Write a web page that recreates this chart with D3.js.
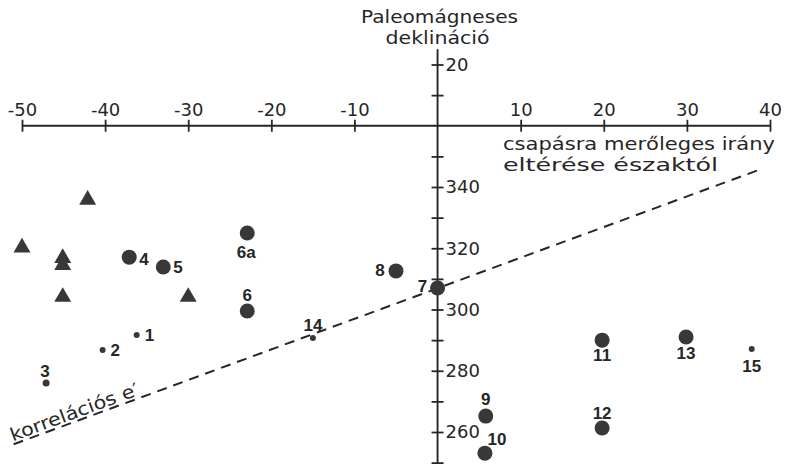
<!DOCTYPE html>
<html><head><meta charset="utf-8">
<script src="https://cdn.jsdelivr.net/npm/d3@7/dist/d3.min.js"></script>
<style>
html,body{margin:0;padding:0;background:#fff;}
svg{display:block;}
</style></head>
<body>
<svg id="chart" width="790" height="469"></svg>
<script>
// ---- data ----
const pointLabels = ["1","2","3","4","5","6","6a","7","8","9","10","11","12","13","14","15"];
const pointX = [-36.2,-40.3,-47.1,-37.1,-33.0,-22.9,-22.9,0.0,-5.0,5.8,5.7,19.8,19.8,29.9,-15.0,37.8];
const pointY = [291.7,286.8,276.0,317.1,313.9,299.5,325.0,307.0,312.6,265.2,253.1,290.0,261.3,291.0,290.7,287.1];
const pointKind = ["small","small","small","large","large","large","large","large","large","large","large","large","large","large","small","small"];
const triX = [-42.1,-50.0,-45.1,-45.1,-45.1,-30.0];
const triY = [335.8,320.2,316.8,314.5,304.1,304.1];
const corrX = [-51, 38.5];
const corrY = [256.0, 345.4];
const xTickValues = [-50,-40,-30,-20,-10,10,20,30,40];
const xTickLabels = ["-50","-40","-30","-20","-10","10","20","30","40"];
const yTickValues = [250,260,270,280,290,300,310,320,330,340,350,370,380];
const yTickLabels = ["","260","","280","","300","","320","","340","","","20"];
const yTitle = ["Paleomágneses","deklináció"];
const xTitle = ["csapásra merőleges irány","eltérése északtól"];
const corrLabel = "korrelációs e′";

// ---- layout / style ----
const svg = d3.select("#chart");
const x = d3.scaleLinear().domain([-50, 40]).range([22, 770]);
const y = d3.scaleLinear().domain([260, 340]).range([432, 187]);
const ink = "#262626", markFill = "#383838";
const axisFont = "'DejaVu Sans', sans-serif";

// x axis
const xAxis = d3.axisTop(x).tickValues(xTickValues)
  .tickFormat((d,i) => xTickLabels[i]).tickSize(6).tickPadding(4);
const gx = svg.append("g").attr("transform", `translate(0,${y(360)})`).call(xAxis);
gx.select(".domain").remove();
gx.append("line").attr("x1", x(-50)).attr("x2", x(40)).attr("y1",0).attr("y2",0)
  .attr("stroke", ink).attr("stroke-width", 1.9);
gx.selectAll(".tick line").attr("y1", -6).attr("y2", 6).attr("stroke", ink).attr("stroke-width", 1.8);
gx.selectAll(".tick text").attr("fill", ink).attr("font-size", 18).attr("font-family", axisFont)
  .attr("y", -10).attr("dy", 0);

// y axis
const yAxis = d3.axisRight(y).tickValues(yTickValues)
  .tickFormat((d,i) => yTickLabels[i]).tickSize(6).tickPadding(2);
const gy = svg.append("g").attr("transform", `translate(${x(0)},0)`).call(yAxis);
gy.select(".domain").remove();
gy.append("line").attr("x1", 0).attr("x2", 0).attr("y1", y(385)).attr("y2", y(250))
  .attr("stroke", ink).attr("stroke-width", 1.9);
gy.selectAll(".tick line").attr("x1", -6).attr("x2", 6).attr("stroke", ink).attr("stroke-width", 1.8);
gy.selectAll(".tick text").attr("fill", ink).attr("font-size", 18).attr("font-family", axisFont)
  .attr("x", 8);

// titles
svg.append("text").attr("x", x(0)+2).attr("y", 23).attr("text-anchor","middle")
  .attr("font-family", axisFont).attr("font-size", 17).attr("fill", ink)
  .attr("textLength", 157).attr("lengthAdjust","spacingAndGlyphs").text(yTitle[0]);
svg.append("text").attr("x", x(0)).attr("y", 44).attr("text-anchor","middle")
  .attr("font-family", axisFont).attr("font-size", 17).attr("fill", ink)
  .attr("textLength", 104).attr("lengthAdjust","spacingAndGlyphs").text(yTitle[1]);
svg.append("text").attr("x", 503).attr("y", 150)
  .attr("font-family", axisFont).attr("font-size", 18).attr("fill", ink)
  .attr("textLength", 272).attr("lengthAdjust","spacingAndGlyphs").text(xTitle[0]);
svg.append("text").attr("x", 503).attr("y", 171)
  .attr("font-family", axisFont).attr("font-size", 18).attr("fill", ink)
  .attr("textLength", 215).attr("lengthAdjust","spacingAndGlyphs").text(xTitle[1]);

// correlation line
const cx0 = x(corrX[0]), cy0 = y(corrY[0]), cx1 = x(corrX[1]), cy1 = y(corrY[1]);
svg.append("line").attr("x1", cx0).attr("y1", cy0).attr("x2", cx1).attr("y2", cy1)
  .attr("stroke", ink).attr("stroke-width", 2).attr("stroke-dasharray", "10,7");
const ang = Math.atan2(cy1 - cy0, cx1 - cx0) * 180 / Math.PI;
svg.append("text")
  .attr("transform", `translate(${cx0},${cy0}) rotate(${ang}) translate(0,-3)`)
  .attr("font-family", axisFont).attr("font-size", 18).attr("fill", ink)
  .attr("textLength", 136).attr("lengthAdjust","spacingAndGlyphs").text(corrLabel);

// triangles
const tri = d3.symbol().type(d3.symbolTriangle).size(125);
svg.append("g").selectAll("path").data(triX.map((v,i)=>[v,triY[i]])).join("path")
  .attr("d", tri).attr("transform", d => `translate(${x(d[0])},${y(d[1])})`)
  .attr("fill", markFill);

// points
const pts = pointLabels.map((l,i)=>({label:l, x:pointX[i], y:pointY[i], kind:pointKind[i]}));
const radius = {large: 7.5, small: 3};
svg.append("g").selectAll("circle").data(pts).join("circle")
  .attr("cx", d => x(d.x)).attr("cy", d => y(d.y))
  .attr("r", d => d.label === "3" ? 3.5 : radius[d.kind]).attr("fill", markFill);

// label placement (offsets in pixels)
const placement = {
  "1":[8,1,"start"], "2":[8,1,"start"], "3":[-1,-12,"middle"], "4":[10,2,"start"], "5":[10,1,"start"],
  "6":[0,-16,"middle"], "6a":[-1,20,"middle"], "7":[-15,-2,"middle"], "8":[-16,0,"middle"],
  "9":[0,-17,"middle"], "10":[12,-14,"middle"], "11":[0,15,"middle"], "12":[0,-15,"middle"],
  "13":[0,16,"middle"], "14":[0,-12,"middle"], "15":[0,17,"middle"]
};
svg.append("g").selectAll("text").data(pts).join("text")
  .attr("x", d => x(d.x) + placement[d.label][0])
  .attr("y", d => y(d.y) + placement[d.label][1])
  .attr("text-anchor", d => placement[d.label][2])
  .attr("dominant-baseline", "central")
  .attr("font-family", "'Liberation Sans', Arial, sans-serif").attr("font-weight", "bold")
  .attr("font-size", 17).attr("fill", ink).text(d => d.label);
</script>
</body></html>
